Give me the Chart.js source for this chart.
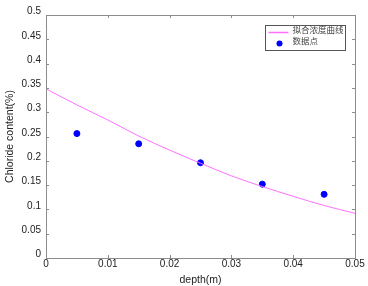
<!DOCTYPE html>
<html>
<head>
<meta charset="utf-8">
<script src="https://cdn.jsdelivr.net/npm/chart.js@4"></script>
<style>
  html, body { margin: 0; padding: 0; background: #fff; }
  #wrap { width: 368px; height: 286px; }
</style>
</head>
<body>
<div id="wrap"><canvas id="myChart" width="368" height="286"></canvas></div>
<script>
// fitted concentration curve
var curveDepth = [0, 0.005, 0.01, 0.015, 0.02, 0.025, 0.03, 0.035, 0.04, 0.045, 0.05];
var curveValue = [0.348, 0.315, 0.284, 0.251, 0.222, 0.195, 0.169, 0.147, 0.127, 0.108, 0.092];

// measured points
var pointDepth = [0.005, 0.015, 0.025, 0.035, 0.045];
var pointValue = [0.256, 0.235, 0.196, 0.152, 0.131];

var seriesNames = ['拟合浓度曲线', '数据点'];

function toXY(xs, ys) {
    return xs.map(function (x, i) { return { x: x, y: ys[i] }; });
}

function fmt(v) {
    return String(+Number(v).toFixed(3));
}

// MATLAB style box with inward ticks + legend box
var matlabBox = {
    id: 'matlabBox',
    afterDatasetsDraw: function (chart) {
        var c = chart.ctx, a = chart.chartArea;
        var xs = chart.scales.x, ys = chart.scales.y;
        c.save();
        c.strokeStyle = '#8c8c8c';
        c.lineWidth = 1;
        c.strokeRect(Math.round(a.left) + 0.5, Math.round(a.top) + 0.5,
            Math.round(a.right - a.left), Math.round(a.bottom - a.top));
        c.beginPath();
        xs.ticks.forEach(function (t) {
            var px = Math.round(xs.getPixelForValue(t.value)) + 0.5;
            c.moveTo(px, a.bottom); c.lineTo(px, a.bottom - 3);
            c.moveTo(px, a.top); c.lineTo(px, a.top + 3);
        });
        ys.ticks.forEach(function (t) {
            var py = Math.round(ys.getPixelForValue(t.value)) + 0.5;
            c.moveTo(a.left, py); c.lineTo(a.left + 3, py);
            c.moveTo(a.right, py); c.lineTo(a.right - 3, py);
        });
        c.stroke();

        // legend
        var bx = Math.round(a.right - 90) + 0.5, by = Math.round(a.top + 10) + 0.5;
        c.fillStyle = '#fff';
        c.fillRect(bx, by, 80, 25);
        c.strokeStyle = '#555';
        c.strokeRect(bx, by, 80, 25);
        var ds = chart.data.datasets;
        c.strokeStyle = ds[0].borderColor;
        c.lineWidth = 1.5;
        c.beginPath();
        c.moveTo(bx + 3, by + 7); c.lineTo(bx + 23, by + 7);
        c.stroke();
        c.fillStyle = ds[1].backgroundColor;
        c.beginPath();
        c.arc(bx + 14, by + 18, 3, 0, Math.PI * 2);
        c.fill();
        c.fillStyle = '#444';
        c.font = '8.5px "Noto Sans CJK SC"';
        c.textBaseline = 'middle';
        c.fillText(ds[0].label, bx + 27, by + 4);
        c.fillText(ds[1].label, bx + 27, by + 15);
        c.restore();
    }
};

var ctx = document.getElementById('myChart').getContext('2d');
var myChart = new Chart(ctx, {
    type: 'scatter',
    data: {
        datasets: [{
            label: seriesNames[0],
            data: toXY(curveDepth, curveValue),
            showLine: true,
            borderColor: '#ff70ff',
            borderWidth: 1,
            pointRadius: 0,
            cubicInterpolationMode: 'monotone'
        }, {
            label: seriesNames[1],
            data: toXY(pointDepth, pointValue),
            backgroundColor: '#0000ff',
            borderColor: '#0000ff',
            pointRadius: 3
        }]
    },
    options: {
        responsive: false,
        animation: false,
        layout: { padding: { top: 15, right: 13, left: 0, bottom: 0 } },
        plugins: {
            legend: { display: false },
            tooltip: { enabled: false }
        },
        scales: {
            x: {
                type: 'linear',
                min: 0,
                max: 0.05,
                afterFit: function (s) { s.height = 28; },
                grid: { display: false, drawTicks: false },
                border: { display: false },
                ticks: {
                    stepSize: 0.01,
                    padding: 0,
                    color: '#222',
                    font: { family: 'Liberation Sans', size: 10 },
                    callback: fmt
                },
                title: {
                    display: true,
                    text: 'depth(m)',
                    color: '#222',
                    padding: 0,
                    font: { family: 'Liberation Sans', size: 10.5 }
                }
            },
            y: {
                min: 0,
                max: 0.5,
                afterFit: function (s) { s.width = 46; },
                grid: { display: false, drawTicks: false },
                border: { display: false },
                ticks: {
                    stepSize: 0.05,
                    padding: 5,
                    labelOffset: -3.5,
                    color: '#222',
                    font: { family: 'Liberation Sans', size: 10 },
                    callback: fmt
                },
                title: {
                    display: true,
                    text: 'Chloride content(%)',
                    color: '#222',
                    padding: 4,
                    font: { family: 'Liberation Sans', size: 10.5 }
                }
            }
        }
    },
    plugins: [matlabBox]
});
</script>
</body>
</html>
